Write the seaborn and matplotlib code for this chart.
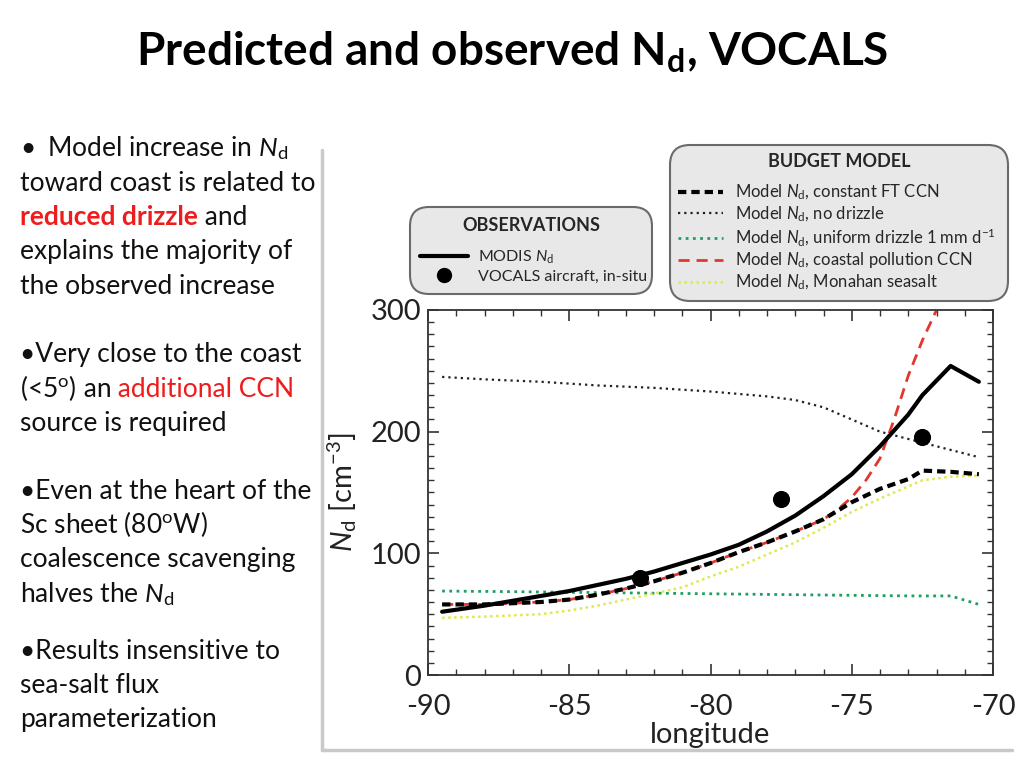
import numpy as np
import matplotlib
matplotlib.use('Agg')
import matplotlib.pyplot as plt
import seaborn as sns
from matplotlib.lines import Line2D
from matplotlib.ticker import MultipleLocator

# ---- data (longitude in deg, N_d in cm-3) ----
lon_modis = [-89.5, -88, -87, -86, -85, -84, -83, -82, -81, -80, -79, -78, -77, -76, -75, -74, -73, -72.5, -71.5, -70.5]
nd_modis = [52, 57, 61, 65, 69, 74, 79, 85, 92, 99, 107, 118, 131, 147, 165, 188, 214, 230, 254, 241]

lon_vocals = [-82.5, -77.5, -72.5]
nd_vocals = [80, 145, 196]

lon_const = [-89.5, -88, -87, -86, -85, -84, -83, -82, -81, -80, -79, -78, -77, -76, -75, -74, -73, -72.5, -71.5, -70.5]
nd_const = [58, 58, 59, 60, 62, 66, 71, 77, 84, 92, 101, 109, 118, 128, 142, 153, 161, 168, 167, 165]

lon_coast = [-89.5, -88, -87, -86, -85, -84, -83, -82, -81, -80, -79, -78, -77, -76, -75.5, -75, -74.5, -74, -73.5, -73, -72.5, -72, -71.5]
nd_coast = [58, 58, 59, 60, 62, 66, 71, 77, 84, 92, 101, 109, 118, 128, 136, 146, 160, 178, 210, 246, 275, 300, 330]

lon_nodrz = [-89.5, -88, -86, -84, -82, -80, -78, -77, -76, -75, -74, -73, -72, -71, -70.5]
nd_nodrz = [245, 243, 241, 238, 236, 233, 229, 226, 220, 210, 200, 194, 188, 182, 179]

lon_unif = [-89.5, -87, -85, -83, -81, -79, -77, -75, -73, -71.5, -70.5]
nd_unif = [69, 68.5, 68, 67.5, 67, 66.5, 66, 65.5, 65, 65, 58]

lon_mona = [-89.5, -88, -87, -86, -85, -84, -83, -82, -81, -80, -79, -78, -77, -76, -75, -74, -73, -72.5, -71.5, -70.5]
nd_mona = [47, 48, 49, 50, 53, 57, 62, 67, 72, 81, 89, 99, 109, 121, 134, 145, 155, 160, 163, 164]

sns.set_theme(style='ticks')
plt.rcParams['font.family'] = ['Lato', 'DejaVu Sans']
plt.rcParams['mathtext.fontset'] = 'custom'
plt.rcParams['mathtext.rm'] = 'Lato'
plt.rcParams['mathtext.it'] = 'Lato:italic'
plt.rcParams['mathtext.bf'] = 'Lato:bold'
plt.rcParams['axes.unicode_minus'] = False

W, H = 1024, 768
fig = plt.figure(figsize=(10.24, 7.68), dpi=100)
fig.patch.set_facecolor('white')

def fx(px):
    return px / W

def fy(py):
    return 1 - py / H

# ---- title ----
fig.text(fx(512), fy(52), r'Predicted and observed N$_\mathregular{d}$, VOCALS',
         ha='center', va='center', fontsize=33, fontweight='bold', color='black')

# ---- left bullet text ----
txt_col = '#111111'
red = '#ee1c1c'
Nd = r'$\mathit{N}_\mathregular{d}$'
lines = [
    (148, [('•', txt_col, 'normal')]),
    (183, [('toward coast is related to', txt_col, 'normal')]),
    (217, [('reduced drizzle', red, 'bold'), (' and', txt_col, 'normal')]),
    (251, [('explains the majority of', txt_col, 'normal')]),
    (286, [('the observed increase', txt_col, 'normal')]),
    (354, [('•Very close to the coast', txt_col, 'normal')]),
    (389, [(r'(<5$^\mathregular{o}$)', txt_col, 'normal'), (' an', txt_col, 'normal'), (' additional CCN', red, 'normal')]),
    (423, [('source is required', txt_col, 'normal')]),
    (491, [('•Even at the heart of the', txt_col, 'normal')]),
    (525, [(r'Sc sheet (80$^\mathregular{o}$W)', txt_col, 'normal')]),
    (559, [('coalescence scavenging', txt_col, 'normal')]),
    (594, [('halves the ' + Nd, txt_col, 'normal')]),
    (651, [('•Results insensitive to', txt_col, 'normal')]),
    (685, [('sea-salt flux', txt_col, 'normal')]),
    (719, [('parameterization', txt_col, 'normal')]),
]
renderer = fig.canvas.get_renderer()
for y, parts in lines:
    x = 20
    for s, c, w in parts:
        t = fig.text(fx(x), fy(y + 8), s, color=c, fontweight=w, fontsize=19,
                     ha='left', va='baseline')
        x += t.get_window_extent(renderer).width
fig.text(fx(47), fy(148 + 8), 'Model increase in ' + Nd, color=txt_col, fontsize=19,
         ha='left', va='baseline')

# ---- figure frame shadow ----
fig.add_artist(Line2D([fx(322), fx(322)], [fy(150), fy(750)], color='#c9c9c9', lw=2.5))
fig.add_artist(Line2D([fx(322), fx(1012)], [fy(750), fy(750)], color='#c9c9c9', lw=2.5))

# ---- main chart ----
ax = fig.add_axes([fx(428), fy(675), fx(993) - fx(428), fy(310) - fy(675)])
sns.lineplot(x=lon_nodrz, y=nd_nodrz, ax=ax, color='#222222', lw=1.6, linestyle=(0, (1, 1.8)))
sns.lineplot(x=lon_unif, y=nd_unif, ax=ax, color='#1e9e62', lw=2.0, linestyle=(0, (1, 1.6)))
sns.lineplot(x=lon_mona, y=nd_mona, ax=ax, color='#dfe84c', lw=1.8, linestyle=(0, (1, 1.4)))
sns.lineplot(x=lon_coast, y=nd_coast, ax=ax, color='#e2372f', lw=2.0, linestyle=(0, (4, 2.5)))
sns.lineplot(x=lon_const, y=nd_const, ax=ax, color='black', lw=3.0, linestyle=(0, (2, 1.2)))
sns.lineplot(x=lon_modis, y=nd_modis, ax=ax, color='black', lw=3.0)
sns.scatterplot(x=lon_vocals, y=nd_vocals, ax=ax, color='black', s=130, edgecolor='black', zorder=5)

ax.set_xlim(-90, -70)
ax.set_ylim(0, 300)
ax.xaxis.set_major_locator(MultipleLocator(5))
ax.xaxis.set_minor_locator(MultipleLocator(1))
ax.yaxis.set_major_locator(MultipleLocator(100))
ax.yaxis.set_minor_locator(MultipleLocator(10))
ax.tick_params(which='both', direction='in', top=True, right=True, color='#333333',
               labelsize=21, labelcolor='#222222')
ax.tick_params(which='major', length=8, width=1.2)
ax.tick_params(which='minor', length=4, width=1.0)
ax.tick_params(axis='x', pad=14)
ax.tick_params(axis='y', pad=5)
for sp in ax.spines.values():
    sp.set_color('#333333')
    sp.set_linewidth(1.3)
ax.set_xlabel('longitude', fontsize=21, color='#222222', labelpad=1)
ax.set_ylabel(r'$\mathit{N}_\mathregular{d}$ [cm$^{\mathregular{-3}}$]', fontsize=21,
              color='#222222', labelpad=8)

# ---- legends ----
obs_handles = [
    Line2D([], [], color='black', lw=3.0),
    Line2D([], [], color='black', marker='o', ls='none', ms=10),
]
obs_labels = ['MODIS ' + Nd, 'VOCALS aircraft, in-situ']
leg1 = fig.legend(obs_handles, obs_labels, title='OBSERVATIONS', loc='upper left',
                  bbox_to_anchor=(fx(410), fy(296), fx(652) - fx(410), fy(207) - fy(296)),
                  mode='expand', fontsize=11.5, frameon=True,
                  fancybox=True, facecolor='#e8e8e8', edgecolor='#6a6a6a', framealpha=1,
                  handlelength=3.0, handletextpad=0.6, labelspacing=0.25, borderpad=0.45,
                  borderaxespad=0.2,
                  title_fontproperties={'weight': 'bold', 'size': 13})
leg1.get_frame().set_linewidth(1.5)
leg1.get_frame().set_boxstyle('round,pad=0.2,rounding_size=1.2')
leg1._legend_box.sep = 10

bud_handles = [
    Line2D([], [], color='black', lw=3.0, linestyle=(0, (2, 1.2))),
    Line2D([], [], color='#222222', lw=1.6, linestyle=(0, (1, 1.8))),
    Line2D([], [], color='#1e9e62', lw=2.0, linestyle=(0, (1, 1.6))),
    Line2D([], [], color='#e2372f', lw=2.0, linestyle=(0, (4, 2.5))),
    Line2D([], [], color='#dfe84c', lw=1.8, linestyle=(0, (1, 1.4))),
]
bud_labels = [
    'Model ' + Nd + ', constant FT CCN',
    'Model ' + Nd + ', no drizzle',
    'Model ' + Nd + r', uniform drizzle 1 mm d$^{\mathregular{-1}}$',
    'Model ' + Nd + ', coastal pollution CCN',
    'Model ' + Nd + ', Monahan seasalt',
]
leg2 = fig.legend(bud_handles, bud_labels, title='BUDGET MODEL', loc='upper left',
                  bbox_to_anchor=(fx(670), fy(293), fx(1008) - fx(670), fy(145) - fy(293)),
                  mode='expand', fontsize=12, frameon=True,
                  fancybox=True, facecolor='#e8e8e8', edgecolor='#6a6a6a', framealpha=1,
                  handlelength=2.7, handletextpad=0.7, labelspacing=0.14, borderpad=0.3,
                  borderaxespad=0.2,
                  title_fontproperties={'weight': 'bold', 'size': 13})
leg2.get_frame().set_linewidth(1.5)
leg2.get_frame().set_boxstyle('round,pad=0.2,rounding_size=1.2')
leg2._legend_box.sep = 9

fig.savefig('out.png', dpi=100, facecolor='white')
